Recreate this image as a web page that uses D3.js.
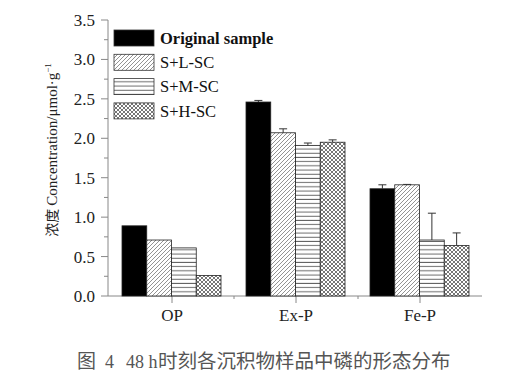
<!DOCTYPE html>
<html><head><meta charset="utf-8">
<script src="https://cdn.jsdelivr.net/npm/d3@7"></script>
<style>body{margin:0;background:#fff}svg{display:block}</style>
</head><body>
<script>
const categories = ["OP", "Ex-P", "Fe-P"];
const seriesNames = ["Original sample", "S+L-SC", "S+M-SC", "S+H-SC"];
const original = [0.89, 2.46, 1.36];
const sLSC = [0.71, 2.07, 1.41];
const sMSC = [0.61, 1.91, 0.71];
const sHSC = [0.26, 1.95, 0.64];
const errOriginal = [0, 0.02, 0.05];
const errL = [0, 0.05, 0.005];
const errM = [0, 0.03, 0.34];
const errH = [0, 0.03, 0.16];
const yTicks = [0, 0.5, 1.0, 1.5, 2.0, 2.5, 3.0, 3.5];

const values = [original, sLSC, sMSC, sHSC];
const errors = [errOriginal, errL, errM, errH];
const fills = ["#000", "url(#pDiag)", "url(#pHoriz)", "url(#pCross)"];

const W = 520, H = 381;
const svg = d3.select("body").append("svg").attr("width", W).attr("height", H);
const defs = svg.append("defs");
const pd = defs.append("pattern").attr("id","pDiag").attr("patternUnits","userSpaceOnUse").attr("width",4).attr("height",4);
pd.append("rect").attr("width",4).attr("height",4).attr("fill","#fff");
pd.append("path").attr("d","M-1,1 l2,-2 M0,4 l4,-4 M3,5 l2,-2").attr("stroke","#777").attr("stroke-width",0.8);
const ph = defs.append("pattern").attr("id","pHoriz").attr("patternUnits","userSpaceOnUse").attr("width",4).attr("height",4.2);
ph.append("rect").attr("width",4).attr("height",4.2).attr("fill","#fff");
ph.append("path").attr("d","M0,2 h4").attr("stroke","#555").attr("stroke-width",0.9);
const pc = defs.append("pattern").attr("id","pCross").attr("patternUnits","userSpaceOnUse").attr("width",4).attr("height",4);
pc.append("rect").attr("width",4).attr("height",4).attr("fill","#fff");
pc.append("path").attr("d","M0,0 l4,4 M0,4 l4,-4").attr("stroke","#666").attr("stroke-width",0.9);

const x0 = d3.scaleBand().domain(categories).range([110, 482]).paddingInner(0).paddingOuter(0);
const x1 = d3.scaleBand().domain(seriesNames).range([12, x0.bandwidth()-13]).padding(0);
const y = d3.scaleLinear().domain([0, 3.5]).range([296, 20]);

const serif = "'Liberation Serif','Times New Roman',serif";
const axisColor = "#888";

const yAxis = svg.append("g").attr("transform","translate(108,0)");
yAxis.append("line").attr("x1",0).attr("x2",0).attr("y1",y(0)).attr("y2",y(3.5)).attr("stroke",axisColor);
const minor = d3.range(0.25, 3.5, 0.5);
yAxis.selectAll(".mn").data(minor).join("line").attr("x1",-4).attr("x2",0).attr("y1",d=>y(d)).attr("y2",d=>y(d)).attr("stroke",axisColor);
yAxis.selectAll(".mj").data(yTicks).join("line").attr("x1",-7).attr("x2",0).attr("y1",d=>y(d)).attr("y2",d=>y(d)).attr("stroke",axisColor);
yAxis.selectAll("text").data(yTicks).join("text").attr("x",-13).attr("y",d=>y(d)).attr("dy","0.35em")
  .attr("text-anchor","end").attr("font-family",serif).attr("font-size",17).attr("fill","#222")
  .text(d=>d3.format(".1f")(d));

const xAxis = svg.append("g");
xAxis.append("line").attr("x1",108).attr("x2",482).attr("y1",296).attr("y2",296).attr("stroke",axisColor);
xAxis.selectAll(".xt").data(categories).join("line").attr("x1",d=>x0(d)+x0.bandwidth()/2).attr("x2",d=>x0(d)+x0.bandwidth()/2)
  .attr("y1",296).attr("y2",303).attr("stroke",axisColor);
xAxis.selectAll(".xm").data(categories.slice(1)).join("line").attr("x1",d=>x0(d)).attr("x2",d=>x0(d))
  .attr("y1",296).attr("y2",299).attr("stroke",axisColor);
xAxis.selectAll("text").data(categories).join("text").attr("x",d=>x0(d)+x0.bandwidth()/2).attr("y",321)
  .attr("text-anchor","middle").attr("font-family",serif).attr("font-size",17).attr("fill","#222").text(d=>d);

const bars = svg.append("g");
categories.forEach((c, ci) => {
  seriesNames.forEach((s, si) => {
    const v = values[si][ci], e = errors[si][ci];
    const bx = x0(c) + x1(s), bw = x1.bandwidth();
    bars.append("rect").attr("x",bx).attr("y",y(v)).attr("width",bw).attr("height",y(0)-y(v))
      .attr("fill",fills[si]).attr("stroke","#222").attr("stroke-width",0.8);
    if (e > 0) {
      const cx = bx + bw/2;
      bars.append("line").attr("x1",cx).attr("x2",cx).attr("y1",y(v)).attr("y2",y(v+e)).attr("stroke","#333");
      bars.append("line").attr("x1",cx-4).attr("x2",cx+4).attr("y1",y(v+e)).attr("y2",y(v+e)).attr("stroke","#333");
    }
  });
});

const lg = svg.append("g");
seriesNames.forEach((s, i) => {
  const ly = 30 + i*24.3;
  lg.append("rect").attr("x",114).attr("y",ly).attr("width",40).attr("height",16)
    .attr("fill",fills[i]).attr("stroke","#333").attr("stroke-width",0.8);
  lg.append("text").attr("x",160).attr("y",ly+8).attr("dy","0.35em").attr("font-family",serif)
    .attr("font-size",16.5).attr("font-weight", i===0 ? "bold" : "normal").attr("fill","#111").text(s);
});

const yt = svg.append("text").attr("transform","translate(57,150) rotate(-90)").attr("text-anchor","middle")
  .attr("font-family",serif).attr("font-size",15).attr("fill","#222");
yt.append("tspan").attr("font-family","'Noto Sans CJK SC',sans-serif").attr("font-size",14).text("浓度 ");
yt.append("tspan").text("Concentration/μmol·g");
yt.append("tspan").attr("dy",-6).attr("font-size",9).text("−1");

// caption
const cap = svg.append("g").attr("fill","#555");
const cjk = "'Noto Sans CJK SC',sans-serif";
cap.append("text").attr("x",77).attr("y",368).attr("font-family",cjk).attr("font-size",19).text("图");
cap.append("text").attr("x",105).attr("y",368).attr("font-family",serif).attr("font-size",18).text("4");
cap.append("text").attr("x",126).attr("y",368).attr("font-family",serif).attr("font-size",18).text("48 h");
cap.append("text").attr("x",158).attr("y",368).attr("font-family",cjk).attr("font-size",19.5).text("时刻各沉积物样品中磷的形态分布");
</script>
</body></html>
